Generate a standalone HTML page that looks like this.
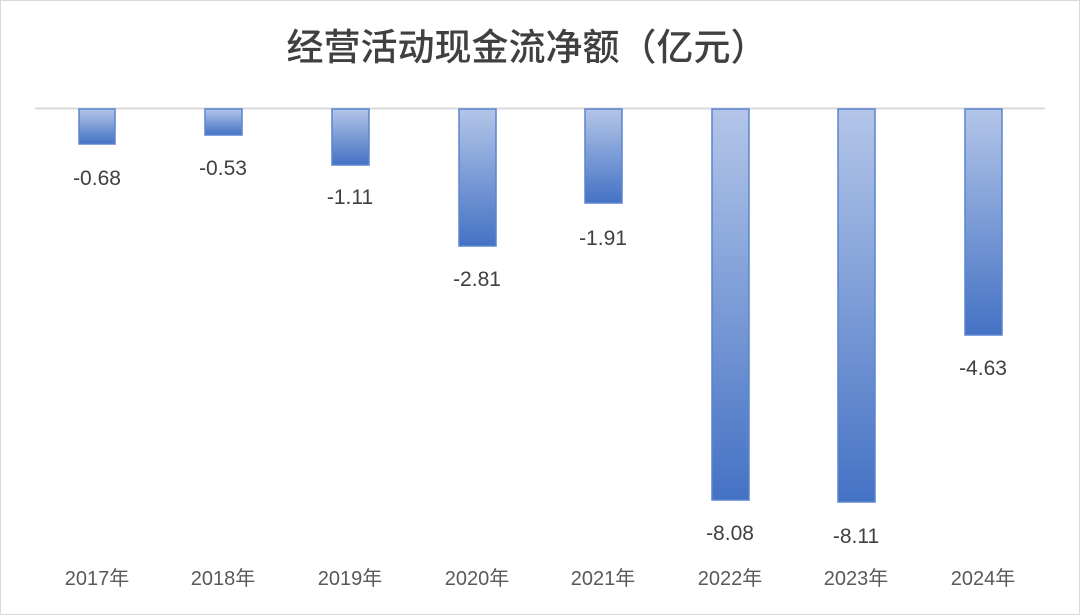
<!DOCTYPE html>
<html><head><meta charset="utf-8"><style>
body{margin:0;background:#fff}
svg{display:block;font-family:"Liberation Sans","Noto Sans CJK SC",sans-serif}
</style></head><body>
<svg width="1080" height="615" viewBox="0 0 1080 615">
<defs>
<linearGradient id="g" x1="0" y1="0" x2="0" y2="1">
<stop offset="0" stop-color="#b3c5e8"/><stop offset="1" stop-color="#4472c4"/>
</linearGradient>
</defs>
<rect x="0.5" y="0.5" width="1079" height="614" fill="#fff" stroke="#d9d9d9"/>
<text x="527" y="60" text-anchor="middle" font-size="37" fill="#404040" font-family="'Noto Sans CJK SC',sans-serif" font-weight="500">经营活动现金流净额（亿元）</text>
<line x1="35" y1="108.5" x2="1045" y2="108.5" stroke="#d9d9d9" stroke-width="2"/>
<g stroke="#5b84d0" stroke-width="1.5">
<rect x="79" y="109" width="36" height="35" fill="url(#g)"/>
<rect x="205" y="109" width="37" height="26" fill="url(#g)"/>
<rect x="332" y="109" width="37" height="56" fill="url(#g)"/>
<rect x="459" y="109" width="37" height="137" fill="url(#g)"/>
<rect x="585" y="109" width="37" height="94" fill="url(#g)"/>
<rect x="712" y="109" width="37" height="391" fill="url(#g)"/>
<rect x="838" y="109" width="37" height="393" fill="url(#g)"/>
<rect x="965" y="109" width="37" height="226" fill="url(#g)"/>
</g>
<g font-size="21" fill="#404040" text-anchor="middle">
<text x="97" y="185">-0.68</text>
<text x="223" y="175">-0.53</text>
<text x="350" y="204">-1.11</text>
<text x="477" y="286">-2.81</text>
<text x="603" y="245">-1.91</text>
<text x="730" y="540">-8.08</text>
<text x="856" y="543">-8.11</text>
<text x="983" y="375">-4.63</text>
</g>
<g font-size="20" fill="#595959" text-anchor="middle">
<text x="97" y="585">2017年</text>
<text x="223" y="585">2018年</text>
<text x="350" y="585">2019年</text>
<text x="477" y="585">2020年</text>
<text x="603" y="585">2021年</text>
<text x="730" y="585">2022年</text>
<text x="856" y="585">2023年</text>
<text x="983" y="585">2024年</text>
</g>
</svg>
</body></html>
